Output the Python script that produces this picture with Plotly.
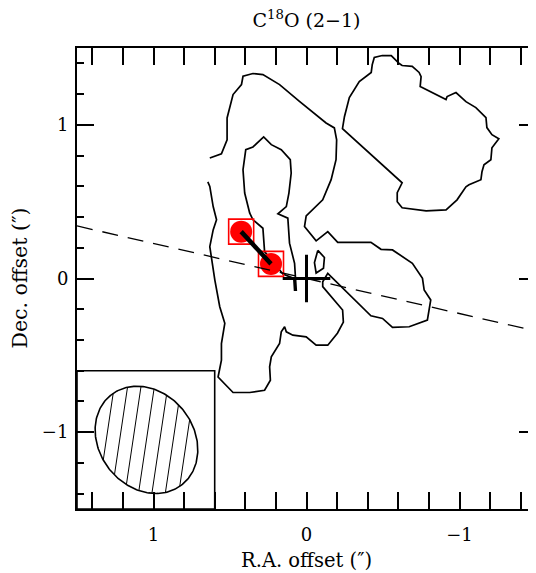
import numpy as np
import plotly.graph_objects as go

# ---------------- axes / labels ----------------
X_RANGE = [1.5, -1.5]
Y_RANGE = [-1.5, 1.5]
MAJOR_TICKS = [-1, 0, 1]
MAJOR_TEXT = ["\u22121", "0", "1"]
MINOR_STEP = 0.2
TITLE = "C<sup>18</sup>O (2\u22121)"
X_LABEL = "R.A. offset (\u2033)"
Y_LABEL = "Dec. offset (\u2033)"

# ---------------- contours (arcsec offsets) ----------------
OUTER_X = [0.632, 0.556, 0.519, 0.519, 0.480, 0.425, 0.415, 0.350, 0.285, 0.176, 0.046, -0.128, -0.182,
           -0.197, -0.193, -0.161, -0.106, 0.002, 0.013, -0.063, -0.139, -0.204, -0.421, -0.487, -0.562,
           -0.692, -0.758, -0.769, -0.812, -0.790, -0.671, -0.562, -0.497, -0.421, -0.139, -0.106, -0.106,
           -0.236, -0.241, -0.202, -0.139, -0.063, 0.002, 0.089, 0.132, 0.143, 0.165, 0.176, 0.230, 0.241,
           0.236, 0.274, 0.371, 0.480, 0.578, 0.556, 0.556, 0.534, 0.567, 0.599, 0.632, 0.610, 0.588, 0.610,
           0.632, 0.645]
OUTER_Y = [0.784, 0.812, 0.903, 1.045, 1.197, 1.262, 1.316, 1.334, 1.327, 1.262, 1.153, 1.012, 0.980,
           0.903, 0.773, 0.643, 0.512, 0.408, 0.338, 0.245, 0.305, 0.235, 0.236, 0.190, 0.186,
           0.099, 0.001, -0.075, -0.140, -0.271, -0.314, -0.318, -0.260, -0.243, 0.034, -0.021, -0.053,
           -0.205, -0.284, -0.356, -0.434, -0.434, -0.380, -0.369, -0.347, -0.314, -0.347, -0.423, -0.510, -0.575,
           -0.662, -0.727, -0.742, -0.742, -0.641, -0.532, -0.423, -0.292, -0.184, -0.010, 0.207, 0.316, 0.382, 0.468,
           0.599, 0.629]

INNER_X = [0.371, 0.404, 0.415, 0.397, 0.350, 0.280, 0.230, 0.165, 0.106, 0.100, 0.115, 0.132, 0.187,
           0.122, 0.111, 0.078, 0.067, 0.078, 0.083, 0.154, 0.274, 0.285, 0.350, 0.371]
INNER_Y = [0.425, 0.556, 0.708, 0.838, 0.856, 0.921, 0.871, 0.838, 0.773, 0.686, 0.556, 0.468, 0.421,
           0.393, 0.230, 0.099, -0.075, -0.075, 0.001, 0.029, 0.175, 0.327, 0.382, 0.425]

KNOT_X = [-0.074, -0.117, -0.111, -0.063, -0.052, -0.074]
KNOT_Y = [0.183, 0.137, 0.067, 0.036, 0.104, 0.183]

NE_X = [-0.430, -0.443, -0.495, -0.554, -0.606, -0.625, -0.691, -0.736, -0.749, -0.743, -0.912, -0.919,
        -0.977, -1.042, -1.107, -1.173, -1.179, -1.212, -1.257, -1.212, -1.205, -1.160, -1.147, -1.140,
        -1.062, -1.042, -0.984, -0.912, -0.782, -0.625, -0.593, -0.593, -0.625, -0.235, -0.248, -0.280,
        -0.345, -0.423, -0.430]
NE_Y = [1.393, 1.438, 1.451, 1.451, 1.399, 1.386, 1.380, 1.341, 1.314, 1.249, 1.164, 1.184,
        1.210, 1.151, 1.112, 1.047, 0.982, 0.936, 0.910, 0.851, 0.773, 0.740, 0.695, 0.643,
        0.610, 0.597, 0.512, 0.447, 0.440, 0.460, 0.499, 0.558, 0.623, 0.975, 1.053, 1.177,
        1.282, 1.341, 1.393]

# ---------------- sources, reference position, axis line ----------------
SRC_X = [0.427, 0.232]
SRC_Y = [0.305, 0.095]
CENTER_X = [0.0]
CENTER_Y = [0.0]
PA_LINE_X = [1.5, -1.5]
PA_LINE_Y = [0.342, -0.342]

# ---------------- beam ----------------
BEAM_BOX_X = [1.5, 0.6]
BEAM_BOX_Y = [-1.5, -0.6]
BEAM_X, BEAM_Y = 1.046, -1.050
BEAM_MAJOR, BEAM_MINOR, BEAM_PA = 0.746, 0.617, 39.0
HATCH_ANGLE = 98.5     # deg, data frame
HATCH_STEP = 0.0866
HATCH_N = [-3, -2, -1, 0, 1, 2, 3]

# ---------------- geometry of the beam ----------------
phi = np.deg2rad(90.0 - BEAM_PA)
a, b = BEAM_MAJOR / 2, BEAM_MINOR / 2
t = np.linspace(0, 2 * np.pi, 241)
ell_x = BEAM_X + a * np.cos(phi) * np.cos(t) - b * np.sin(phi) * np.sin(t)
ell_y = BEAM_Y + a * np.sin(phi) * np.cos(t) + b * np.cos(phi) * np.sin(t)

psi = np.deg2rad(HATCH_ANGLE)
d = np.array([np.cos(psi), np.sin(psi)])
n = np.array([-np.sin(psi), np.cos(psi)])
e1 = np.array([np.cos(phi), np.sin(phi)])
e2 = np.array([-np.sin(phi), np.cos(phi)])
hx, hy = [], []
for k in HATCH_N:
    p0 = k * HATCH_STEP * n
    u0, v0 = p0 @ e1 / a, p0 @ e2 / b
    du, dv = d @ e1 / a, d @ e2 / b
    A = du * du + dv * dv
    B = 2 * (u0 * du + v0 * dv)
    C = u0 * u0 + v0 * v0 - 1
    disc = B * B - 4 * A * C
    if disc <= 0:
        continue
    t1 = (-B - np.sqrt(disc)) / (2 * A)
    t2 = (-B + np.sqrt(disc)) / (2 * A)
    for tt in (t1, t2):
        hx.append(BEAM_X + p0[0] + tt * d[0])
        hy.append(BEAM_Y + p0[1] + tt * d[1])
    hx.append(None)
    hy.append(None)

FONT = "DejaVu Serif"
LW = 1.7

# the page body has an 8 px margin: the figure is sized to fill the rest of the window
W, H = 528, 565
ML, MT, MB = 69, 40, 64
PW, PH = W - ML, H - MT - MB

fig = go.Figure()


def line(x, y, width=LW, dash=None, yaxis="y"):
    fig.add_trace(go.Scatter(x=x, y=y, mode="lines", yaxis=yaxis,
                             line=dict(color="black", width=width, dash=dash),
                             hoverinfo="skip", showlegend=False))


line(PA_LINE_X, PA_LINE_Y, width=1.3, dash="16px,10px", yaxis="y2")
line(OUTER_X, OUTER_Y)
line(INNER_X, INNER_Y)
line(KNOT_X, KNOT_Y)
line(NE_X, NE_Y)
line(list(ell_x), list(ell_y), width=1.6)
line(hx, hy, width=1.0)

fig.add_trace(go.Scatter(x=SRC_X, y=SRC_Y, mode="markers",
                         marker=dict(symbol="square-open", size=25, color="red", line=dict(width=1.6, color="red")),
                         hoverinfo="skip", showlegend=False))
fig.add_trace(go.Scatter(x=SRC_X, y=SRC_Y, mode="markers",
                         marker=dict(symbol="circle", size=22, color="red", line=dict(width=0)),
                         hoverinfo="skip", showlegend=False))
line(SRC_X, SRC_Y, width=4.5)
fig.add_trace(go.Scatter(x=CENTER_X, y=CENTER_Y, mode="markers",
                         marker=dict(symbol="cross-thin", size=34, line=dict(width=3, color="black")),
                         hoverinfo="skip", showlegend=False))

fig.add_shape(type="rect", xref="x", yref="y", x0=BEAM_BOX_X[0], x1=BEAM_BOX_X[1],
              y0=BEAM_BOX_Y[0], y1=BEAM_BOX_Y[1], line=dict(color="black", width=1.6))

tick_common = dict(ticks="inside", ticklen=17, tickwidth=1.6, tickcolor="black",
                   minor=dict(dtick=MINOR_STEP, tick0=0, ticks="inside", ticklen=7,
                              tickwidth=1.5, tickcolor="black"),
                   showgrid=False, zeroline=False)

fig.update_layout(
    width=W, height=H,
    margin=dict(l=ML, r=0, t=MT, b=MB, pad=0),
    plot_bgcolor="white", paper_bgcolor="white",
    font=dict(family=FONT, color="black", size=18),
    title=dict(text=TITLE, x=0.5, xref="paper", xanchor="center",
               y=1 - 12 / H, yref="container", yanchor="middle", font=dict(size=19)),
    xaxis=dict(range=X_RANGE, tickmode="array", tickvals=MAJOR_TICKS, ticktext=MAJOR_TEXT,
               showline=True, linecolor="black", linewidth=2, mirror="allticks",
               ticklabelstandoff=8, tickfont=dict(size=18), **tick_common),
    yaxis=dict(range=Y_RANGE, tickmode="array", tickvals=MAJOR_TICKS, ticktext=MAJOR_TEXT,
               showline=True, linecolor="black", linewidth=2, mirror=False,
               ticklabelstandoff=3, tickfont=dict(size=18), **tick_common),
    yaxis2=dict(range=Y_RANGE, overlaying="y", matches="y", side="right", anchor="x",
                showline=False, showticklabels=False, tickmode="array", tickvals=MAJOR_TICKS,
                **tick_common),
    annotations=[
        dict(text=X_LABEL, xref="paper", yref="paper", x=0.5, y=-51 / PH, xanchor="center",
             yanchor="middle", showarrow=False, font=dict(size=19.5)),
        dict(text=Y_LABEL, xref="paper", yref="paper", x=-58 / PW, y=0.5, xanchor="center",
             yanchor="middle", textangle=-90, showarrow=False, font=dict(size=20.5)),
    ],
)

fig.write_html("out.html")
